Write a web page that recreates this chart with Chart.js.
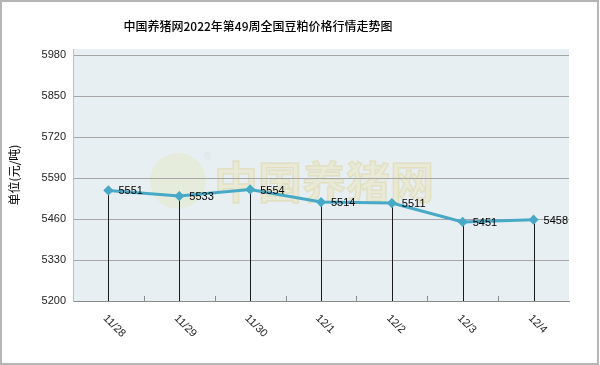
<!DOCTYPE html>
<html>
<head>
<meta charset="utf-8">
<script src="https://cdn.jsdelivr.net/npm/chart.js@4/dist/chart.umd.min.js"></script>
<style>
  html, body { margin: 0; padding: 0; background: #fff; }
  #wrap { width: 600px; height: 365px; }
</style>
</head>
<body>
<div id="wrap"><canvas id="myChart" width="600" height="365"></canvas></div>
<script>
  // 2022 week 49 soybean meal prices (yuan/ton)
  const days = ["11/28", "11/29", "11/30", "12/1", "12/2", "12/3", "12/4"];
  const prices = [5551, 5533, 5554, 5514, 5511, 5451, 5458];
  const yTicks = [5200, 5330, 5460, 5590, 5720, 5850, 5980];
  const chartTitle = "中国养猪网2022年第49周全国豆粕价格行情走势图";
  const yTitle = "单位(元/吨)";

  const numFont = "'Liberation Sans', Arial, sans-serif";
  const cjkFont = "'Noto Sans CJK SC', sans-serif";
  const lineColor = "#47A9C6";

  const decor = {
    id: "decor",
    beforeDraw(chart) {
      const { ctx, chartArea: a } = chart;
      ctx.save();
      ctx.fillStyle = "#fff";
      ctx.fillRect(0, 0, chart.width, chart.height);
      ctx.fillStyle = "#E8EFF3";
      ctx.fillRect(a.left, a.top, a.right - a.left, a.bottom - a.top);

      // faint watermark
      ctx.globalAlpha = 0.3;
      ctx.fillStyle = "#E2E4A4";
      ctx.beginPath();
      ctx.arc(178, 181, 28, 0, Math.PI * 2);
      ctx.fill();
      ctx.fillStyle = "#E8DC98";
      ctx.strokeStyle = "#D8C878";
      ctx.lineWidth = 1.5;
      ctx.font = "bold 44px " + cjkFont;
      ctx.textAlign = "left";
      ctx.textBaseline = "middle";
      ctx.fillText("中国养猪网", 214, 182);
      ctx.strokeText("中国养猪网", 214, 182);
      ctx.font = "10px " + numFont;
      ctx.fillStyle = "#C0C0C0";
      ctx.fillText("®", 204, 157);
      ctx.restore();
    },
    beforeDatasetsDraw(chart) {
      const { ctx, chartArea: a, scales: { x } } = chart;
      const meta = chart.getDatasetMeta(0);
      ctx.save();
      // small boundary ticks on the category axis
      ctx.strokeStyle = "#8C8C8C";
      ctx.lineWidth = 1;
      for (let i = 0; i < days.length - 1; i++) {
        const bx = Math.round((x.getPixelForValue(i) + x.getPixelForValue(i + 1)) / 2) + 0.5;
        ctx.beginPath();
        ctx.moveTo(bx, a.bottom);
        ctx.lineTo(bx, a.bottom - 5);
        ctx.stroke();
      }
      // drop lines from each point
      ctx.strokeStyle = "#1A1A1A";
      meta.data.forEach((pt) => {
        const px = Math.round(pt.x) + 0.5;
        ctx.beginPath();
        ctx.moveTo(px, pt.y);
        ctx.lineTo(px, a.bottom);
        ctx.stroke();
      });
      ctx.restore();
    },
    afterDatasetsDraw(chart) {
      const { ctx } = chart;
      const meta = chart.getDatasetMeta(0);
      ctx.save();
      ctx.fillStyle = "#000";
      ctx.font = "11px " + numFont;
      ctx.textAlign = "left";
      ctx.textBaseline = "middle";
      meta.data.forEach((pt, i) => {
        ctx.fillText(String(prices[i]), pt.x + 10, pt.y + 1);
      });
      ctx.restore();
    },
    afterDraw(chart) {
      const { ctx, chartArea: a, scales: { x } } = chart;
      ctx.save();
      // title
      ctx.fillStyle = "#000";
      ctx.font = "500 12px " + cjkFont;
      ctx.textAlign = "center";
      ctx.textBaseline = "middle";
      ctx.fillText(chartTitle, 258, 26);
      // y title
      ctx.save();
      ctx.translate(14, (a.top + a.bottom) / 2);
      ctx.rotate(-Math.PI / 2);
      ctx.font = "12px " + cjkFont;
      ctx.fillText(yTitle, 0, 0);
      ctx.restore();
      // rotated x labels (reading downward)
      ctx.font = "11px " + numFont;
      ctx.fillStyle = "#222";
      ctx.textAlign = "left";
      days.forEach((d, i) => {
        const px = x.getPixelForValue(i);
        ctx.save();
        ctx.translate(px - 3.5, a.bottom + 15.5);
        ctx.rotate(Math.PI / 4);
        ctx.fillText(d, 0, 0);
        ctx.restore();
      });
      // outer border
      ctx.strokeStyle = "#B5B5B5";
      ctx.lineWidth = 2;
      ctx.strokeRect(1, 1, chart.width - 3, chart.height - 2);
      ctx.restore();
    },
  };

  const ctx = document.getElementById("myChart").getContext("2d");
  const myChart = new Chart(ctx, {
    type: "line",
    data: {
      labels: days,
      datasets: [
        {
          label: "豆粕价格",
          data: prices,
          borderColor: lineColor,
          backgroundColor: lineColor,
          pointBackgroundColor: lineColor,
          pointBorderColor: lineColor,
          pointStyle: "rectRot",
          pointRadius: 3,
          borderWidth: 3,
          tension: 0,
          fill: false,
        },
      ],
    },
    options: {
      responsive: false,
      animation: false,
      layout: { padding: { top: 49, right: 31, left: 0, bottom: 0 } },
      plugins: {
        legend: { display: false },
        tooltip: { enabled: false },
      },
      scales: {
        x: {
          type: "category",
          offset: true,
          grid: { display: false },
          border: { display: true, color: "#8C8C8C", width: 1 },
          ticks: { display: false },
          afterFit: (s) => { s.height = 64; },
        },
        y: {
          min: 5200,
          max: 6000,
          afterBuildTicks: (s) => { s.ticks = yTicks.map((v) => ({ value: v })); },
          grid: { color: "#A6A6A6", lineWidth: 1, drawTicks: false },
          border: { display: true, color: "#BDBDBD", width: 1 },
          ticks: {
            padding: 7,
            color: "#222",
            font: { family: numFont, size: 11 },
            callback: (v) => String(v),
          },
          afterFit: (s) => { s.width = 73; },
        },
      },
    },
    plugins: [decor],
  });
</script>
</body>
</html>
